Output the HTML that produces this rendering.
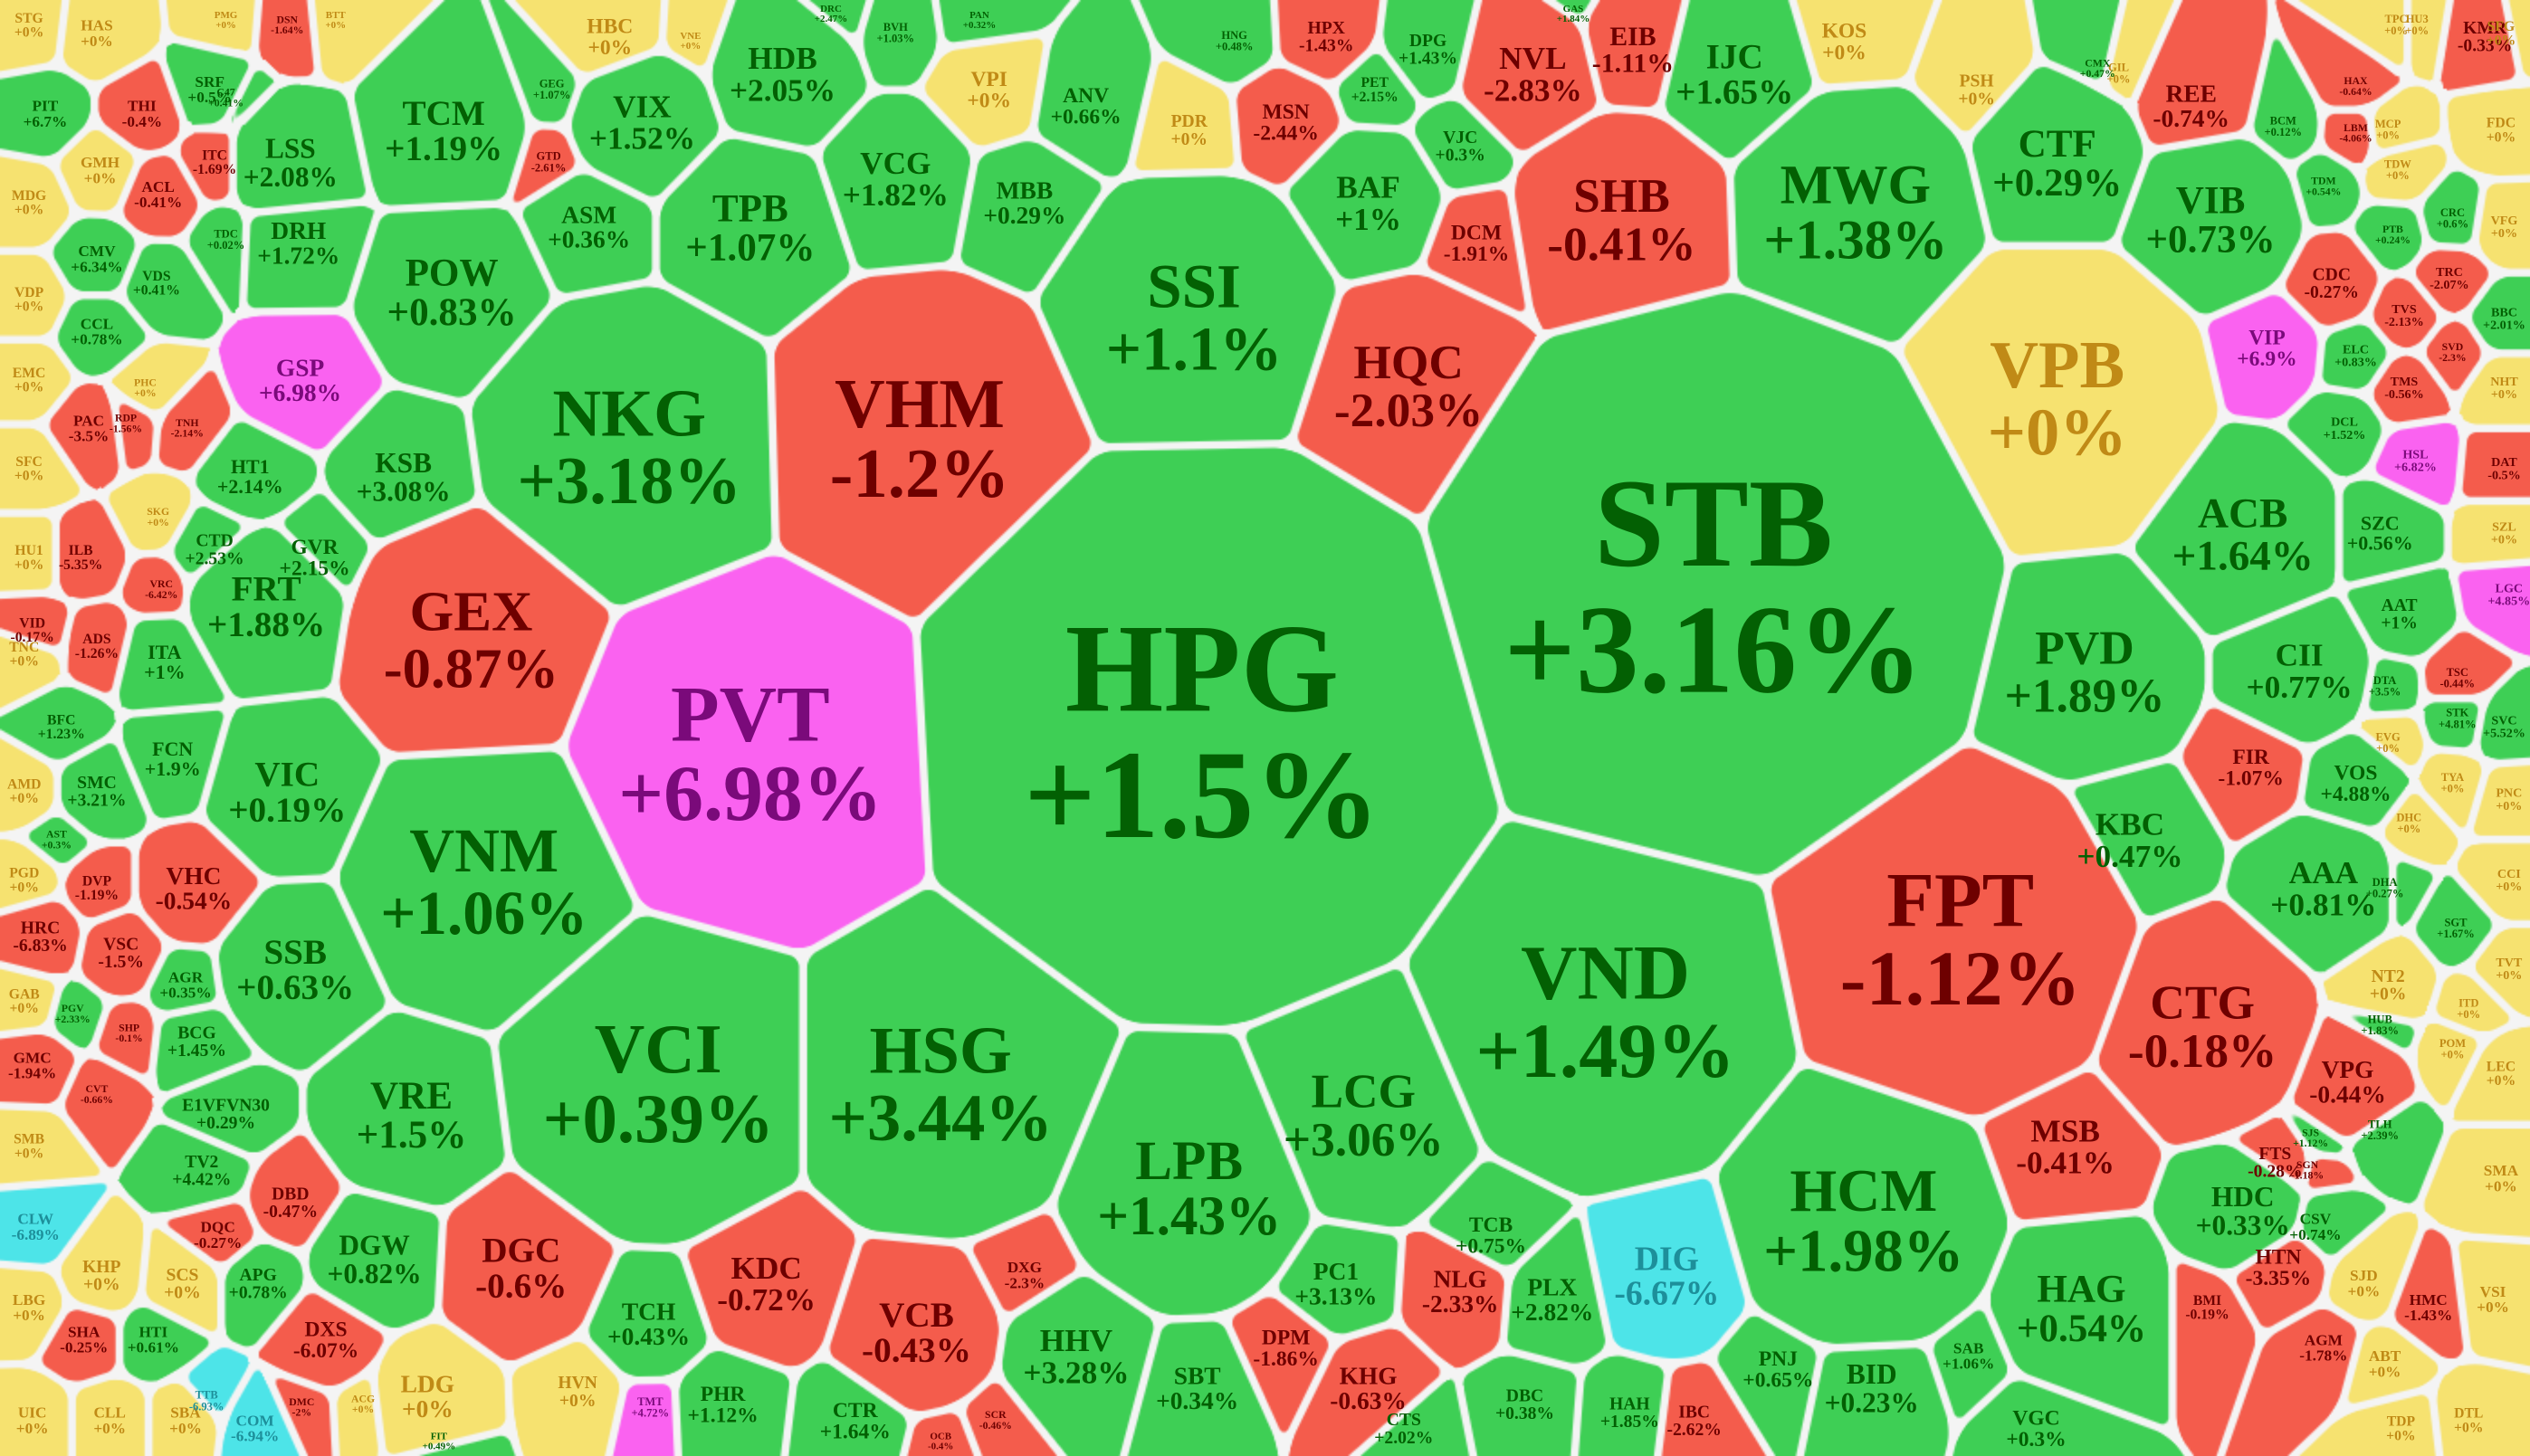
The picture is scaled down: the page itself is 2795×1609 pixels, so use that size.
<!DOCTYPE html>
<html><head><meta charset="utf-8">
<style>
html,body{margin:0;padding:0;background:#f4f4f4;}
#wrap{position:relative;width:2795px;height:1609px;overflow:hidden;}
#cv{position:absolute;left:0;top:0;width:2795px;height:1609px;}
#lab{position:absolute;left:0;top:0;}
text{font-family:"Liberation Serif",serif;font-weight:bold;text-anchor:middle;}
</style></head>
<body>
<div id="wrap">
<canvas id="cv" width="1398" height="805"></canvas>
<svg id="lab" width="2795" height="1609"></svg>
</div>
<script>
// Data: ticker symbols and their % change
const tickers = ["HPG","STB","VPB","PVT","VHM","SSI","NKG","GEX","VNM","VCI","HSG","VND","FPT","HCM","LPB","LCG","HQC","SHB","MWG","PVD","ACB","CTG","KBC","AAA","CII","VIB","CTF","IJC","EIB","NVL","BAF","DCM","TPB","POW","TCM","HDB","VCG","MBB","VIX","ASM","LSS","DRH","KSB","GSP","FRT","VIC","SSB","VRE","DGW","DGC","KDC","VCB","HHV","SBT","PC1","NLG","TCB","DIG","PLX","HAG","MSB","HDC","VPG","FTS","HTN","VOS","FIR","KHG","TCH","LDG","PHR","CTR","DPM","BID","PNJ","VGC","IBC","HAH","DBC","CTS","SAB","GVR","HT1","CTD","ITA","FCN","SMC","VHC","VSC","HRC","DVP","AGR","BCG","E1VFVN30","TV2","DBD","DQC","APG","DXS","DXG","HBC","VPI","ANV","PDR","MSN","HPX","DPG","VJC","PET","KOS","PSH","REE","KMR","CDC","VIP","SZC","AAT","NT2","LEC","SMA","VSI","SJD","ABT","DTL","TDP","HMC","AGM","BMI","CSV","HVN","SCS","KHP","LBG","UIC","CLL","SBA","COM","CLW","SHA","HTI","GMC","SMB","GAB","PGD","AMD","TNC","VID","HU1","SFC","EMC","VDP","MDG","PIT","STG","HAS","GMH","THI","ACL","ITC","SRF","CMV","VDS","CCL","PAC","ILB","ADS","BFC","SFG","FDC","VFG","BBC","NHT","DAT","SZL","LGC","SVC","PNC","CCI","TVT","TRC","TVS","TMS","HSL","DCL","ELC","BCM","MCP","TPC","HU3","CRC","TDW",
"GIL","HNG","ITD","POM","SGT","HUB","TLH","DHA","DHC","TYA","EVG","STK","DTA","TSC",
"GEG","HAX","TDC","CVT","VRC","SKG","RDP","TNH","PHC","C47","BVH","TTB","PAN","DRC","GAS","VNE","PMG","DSN","BTT","CMX","SGN","AST","GTD","TMT","SCR","OCB","FIT","ACG","DMC","PTB","SVD","LBM","TDM","SJS","SHP","PGV"];
const changes = [1.5,3.16,0,6.98,-1.2,1.1,3.18,-0.87,1.06,0.39,3.44,1.49,-1.12,1.98,1.43,3.06,-2.03,-0.41,1.38,1.89,1.64,-0.18,0.47,0.81,0.77,0.73,0.29,1.65,-1.11,-2.83,1,-1.91,1.07,0.83,1.19,2.05,1.82,0.29,1.52,0.36,2.08,1.72,3.08,6.98,1.88,0.19,0.63,1.5,0.82,-0.6,-0.72,-0.43,3.28,0.34,3.13,-2.33,0.75,-6.67,2.82,0.54,-0.41,0.33,-0.44,-0.28,-3.35,4.88,-1.07,-0.63,0.43,0,1.12,1.64,-1.86,0.23,0.65,0.3,-2.62,1.85,0.38,2.02,1.06,2.15,2.14,2.53,1,1.9,3.21,-0.54,-1.5,-6.83,-1.19,0.35,1.45,0.29,4.42,-0.47,-0.27,0.78,-6.07,-2.3,0,0,0.66,0,-2.44,-1.43,1.43,0.3,2.15,0,0,-0.74,-0.33,-0.27,6.9,0.56,1,0,0,0,0,0,0,0,0,-1.43,-1.78,-0.19,0.74,0,0,0,0,0,0,0,-6.94,-6.89,-0.25,0.61,-1.94,0,0,0,0,0,-0.17,0,0,0,0,0,6.7,0,0,0,-0.4,-0.41,-1.69,0.5,6.34,0.41,0.78,-3.5,-5.35,-1.26,1.23,0,0,0,2.01,0,-0.5,0,4.85,5.52,0,0,0,-2.07,-2.13,-0.56,6.82,1.52,0.83,0.12,0,0,0,0.6,0,
0,0.48,0,0,1.67,1.83,2.39,0.27,0,0,0,4.81,3.5,-0.44,
1.07,-0.64,0.02,-0.66,-6.42,0,-1.56,-2.14,0,0.41,1.03,-6.93,0.32,2.47,1.84,0,0,-1.64,0,0.47,-1.18,0.3,-2.61,4.72,-0.46,-0.4,0.49,0,-2,0.24,-2.3,-4.06,0.54,1.12,-0.1,2.33];
// floor / ceiling flags (exchange-specific limits)
const floorTickers = ["DIG","COM","CLW","TTB"];
const ceilTickers = ["LGC","TMT","PVT","GSP","VIP","HSL"];
// Layout sites (reference coordinates at 1568-wide scale): x, y, radius
const siteX = [745,1062,1275,465,570,740,390,292,300,408,583,995,1215,1155,737,845,873,1005,1150,1292,1390,1365,1320,1440,1425,1370,1275,1075,1012,950,848,915,465,280,275,485,555,635,398,365,180,185,250,186,165,178,183,255,232,323,475,568,667,742,828,905,924,1033,962,1290,1280,1390,1455,1410,1412,1460,1395,848,402,265,448,530,797,1160,1102,1262,1050,1010,945,870,1220,195,155,133,102,107,60,120,75,25,60,115,122,140,125,180,135,160,202,635,378,613,673,737,797,822,885,905,852,1143,1225,1358,1540,1445,1405,1475,1487,1480,1550,1550,1545,1465,1478,1530,1488,1505,1440,1368,1435,358,113,63,18,20,68,115,158,22,52,95,20,18,15,15,15,15,20,18,18,18,18,18,28,18,60,62,88,98,133,130,60,97,60,55,50,60,38,1550,1550,1552,1552,1552,1552,1552,1555,1552,1555,1555,1555,1518,1490,1490,1497,1453,1460,1415,1480,1485,1498,1520,1486,
1313,765,1530,1520,1522,1475,1475,1478,1493,1520,1480,1523,1478,1523,
342,1460,140,60,100,98,78,116,90,140,555,128,607,515,975,428,140,178,208,1300,1430,35,340,403,617,583,272,225,187,1483,1520,1460,1440,1432,80,45];
const siteY = [450,360,245,465,270,195,275,395,545,670,670,625,580,755,735,690,238,135,130,415,330,635,520,550,415,135,100,45,30,45,125,150,140,180,80,45,110,125,75,140,100,150,295,235,375,490,600,690,780,785,795,825,840,860,795,800,765,790,805,810,710,750,670,720,785,485,475,860,820,865,870,880,835,860,848,885,880,875,870,885,840,345,295,340,410,470,490,550,590,580,550,610,645,690,725,745,765,795,830,790,22,55,65,80,75,22,30,90,55,25,55,65,22,175,215,330,380,610,665,730,805,795,845,880,885,810,835,810,760,862,795,790,810,880,880,880,885,760,830,830,660,710,620,545,490,405,390,345,290,235,185,125,70,15,20,105,70,120,100,55,160,175,205,265,345,400,450,20,80,140,197,240,290,330,368,450,495,545,600,172,195,240,285,265,220,78,80,15,15,135,105,
45,25,625,650,575,635,700,550,510,485,460,445,425,420,
55,53,148,678,365,320,262,265,240,60,20,868,12,8,8,25,12,15,12,42,725,520,100,872,880,893,893,870,872,145,218,82,115,705,640,628];
const siteR = [178,178,95,112,98,88,95,80,88,98,
95,110,110,85,78,68,68,68,78,68,
60,68,45,45,45,55,55,50,38,45,
45,30,55,55,50,45,45,35,45,35,
40,35,40,35,50,50,50,55,40,50,
45,50,45,35,35,35,30,48,35,55,
45,40,35,25,30,30,30,35,35,35,
30,30,30,40,30,30,25,25,25,25,
22,30,28,25,28,28,25,35,25,25,
20,22,25,25,25,25,22,25,30,22,
30,30,30,25,30,25,25,25,20,30,
25,35,25,25,30,28,25,25,20,22,
22,22,22,20,20,22,22,20,22,25,
25,25,22,22,22,22,22,22,22,22,
22,20,20,20,20,20,20,20,20,20,
20,20,22,20,22,22,22,22,20,22,
22,20,22,22,20,20,20,20,20,18,
18,18,18,18,18,18,18,18,18,18,
18,18,18,18,18,16,16,16,16,16,
16,
16,16,16,16,16,16,16,16,16,16,16,16,16,16,
16,15,16,15,15,15,15,15,15,15,16,16,14,14,14,14,14,15,14,15,15,15,16,16,15,14,14,15,15,15,15,15,15,15,15,15];

const SC = 2795/1568;
function px(v){return v*SC;}
function fillOf(i){
  const t=tickers[i], v=changes[i];
  if(floorTickers.includes(t)) return [77,228,232];
  if(ceilTickers.includes(t)||v>=6.8) return [250,98,240];
  if(v>0) return [62,207,85];
  if(v<0) return [244,92,76];
  return [246,226,112];
}
function textOf(i){
  const t=tickers[i], v=changes[i];
  if(floorTickers.includes(t)) return "#1d8f9a";
  if(ceilTickers.includes(t)||v>=6.8) return "#7a0a7a";
  if(v>0) return "#036003";
  if(v<0) return "#6e0000";
  return "#c08a16";
}
const N = Math.min(tickers.length, changes.length, siteX.length, siteY.length, siteR.length);
const cv=document.getElementById('cv'), ctx=cv.getContext('2d');
const W=cv.width,H=cv.height,k=W/1568;
const sx=new Float64Array(N),sy=new Float64Array(N),sw=new Float64Array(N),cols=[];
for(let i=0;i<N;i++){sx[i]=siteX[i]*k;sy[i]=siteY[i]*k;const r=siteR[i]*k;sw[i]=r*r;cols.push(fillOf(i));}
const img=ctx.createImageData(W,H),d=img.data;
const gap=2.2, RR=gap+5;
function bis(b,c,pb,pc){const dx=sx[b]-sx[c],dy=sy[b]-sy[c];return (pc-pb)/(2*Math.sqrt(dx*dx+dy*dy));}
for(let y=0;y<H;y++){for(let x=0;x<W;x++){
  let b=-1,bv=1e18,c=-1,cvv=1e18,e=-1,ev=1e18;
  for(let i=0;i<N;i++){const dx=x-sx[i],dy=y-sy[i];const p=dx*dx+dy*dy-sw[i];
    if(p<bv){e=c;ev=cvv;c=b;cvv=bv;b=i;bv=p;}else if(p<cvv){e=c;ev=cvv;c=i;cvv=p;}else if(p<ev){e=i;ev=p;}}
  const d1=bis(b,c,bv,cvv), d2=bis(b,e,bv,ev);
  let eff;
  if(d1>=RR||d2>=RR) eff=Math.min(d1,d2);
  else eff=RR-Math.hypot(RR-d1,RR-d2);
  const o=(y*W+x)*4;const col=cols[b];
  const a=Math.max(0,Math.min(1,eff-gap+0.5));
  d[o]=244+(col[0]-244)*a;d[o+1]=244+(col[1]-244)*a;d[o+2]=244+(col[2]-244)*a;d[o+3]=255;
}}
ctx.putImageData(img,0,0);
const svg=document.getElementById('lab'),NS="http://www.w3.org/2000/svg";
for(let i=0;i<N;i++){
  const r=px(siteR[i]);const fs=Math.max(9,r*0.44);
  const g=document.createElementNS(NS,'g');
  
  
  const cx=px(siteX[i]),cy=px(siteY[i]);
  const t1=document.createElementNS(NS,'text');
  
  
  t1.setAttribute('x',cx);t1.setAttribute('y',cy-fs*0.12);
  t1.setAttribute('font-size',fs);t1.setAttribute('fill',textOf(i));
  t1.textContent=tickers[i];
  const v=changes[i];
  const t2=document.createElementNS(NS,'text');
  
  
  t2.setAttribute('x',cx);t2.setAttribute('y',cy+fs*0.88);
  t2.setAttribute('font-size',fs);t2.setAttribute('fill',textOf(i));
  t2.textContent=(v>=0?'+':'')+v+'%';
  g.appendChild(t1);g.appendChild(t2);svg.appendChild(g);
}
</script>
</body></html>
